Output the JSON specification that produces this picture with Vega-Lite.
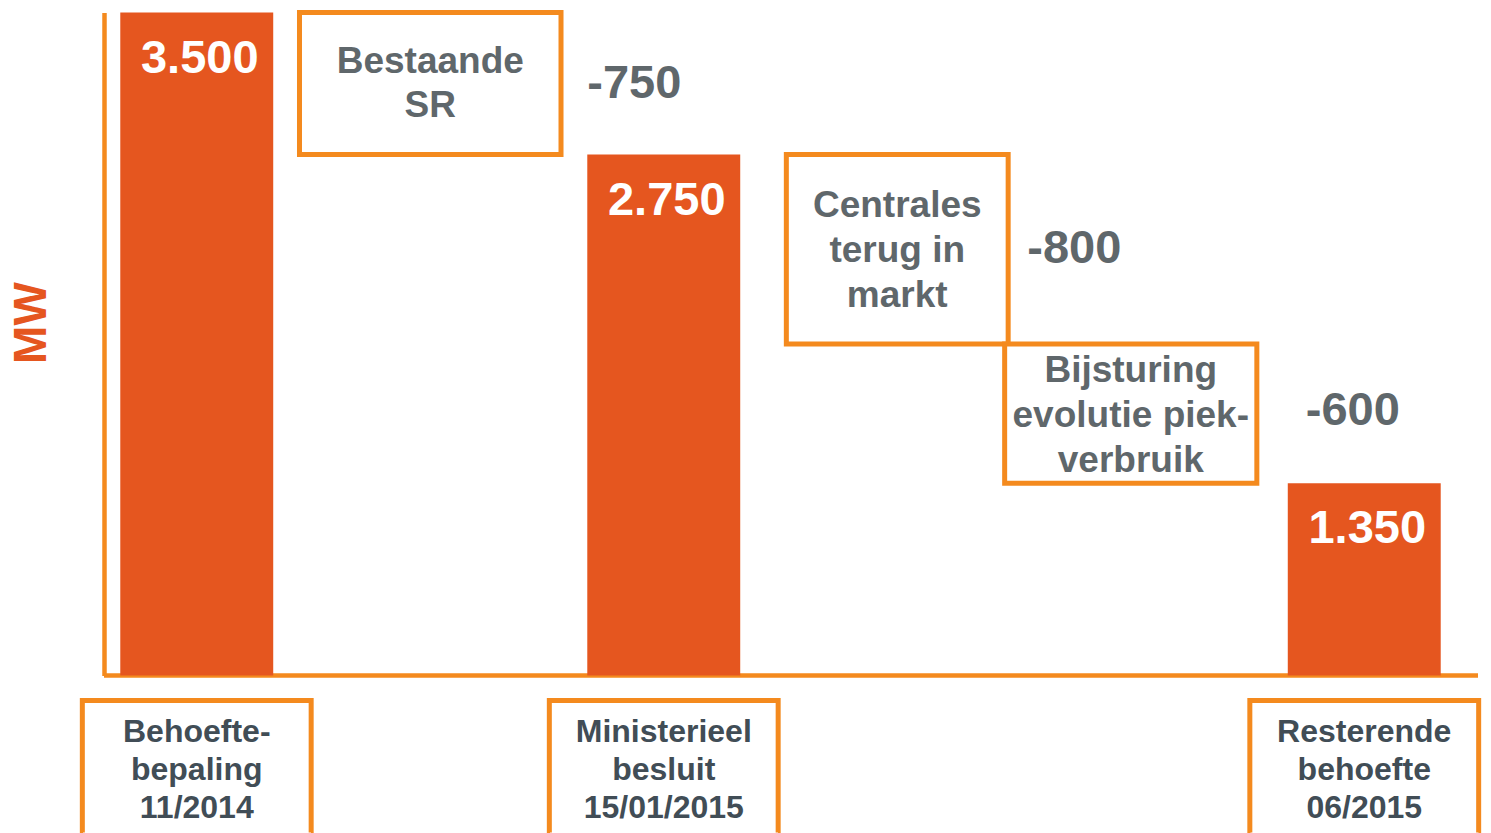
{
  "$schema": "https://vega.github.io/schema/vega-lite/v6.json",
  "padding": {"left": 8, "top": 9.5, "right": 0, "bottom": 0},
  "background": "white",
  "config": {"view": {"stroke": null}, "font": "Liberation Sans"},
  "datasets": {
    "steps": [
      {"step": "Behoefte-bepaling 11/2014", "kind": "total", "start": 0, "end": 3500, "label": "3.500", "desc": "Behoefte-\nbepaling\n11/2014"},
      {"step": "Bestaande SR", "kind": "delta", "start": 3500, "end": 2750, "label": "-750", "desc": "Bestaande\nSR"},
      {"step": "Ministerieel besluit 15/01/2015", "kind": "total", "start": 0, "end": 2750, "label": "2.750", "desc": "Ministerieel\nbesluit\n15/01/2015"},
      {"step": "Centrales terug in markt", "kind": "delta", "start": 2750, "end": 1750, "label": "-800", "desc": "Centrales\nterug in\nmarkt"},
      {"step": "Bijsturing evolutie piekverbruik", "kind": "delta", "start": 1750, "end": 1015, "label": "-600", "desc": "Bijsturing\nevolutie piek-\nverbruik"},
      {"step": "Resterende behoefte 06/2015", "kind": "total", "start": 0, "end": 1015, "label": "1.350", "desc": "Resterende\nbehoefte\n06/2015"}
    ]
  },
  "bounds": "flush",
  "spacing": 20,
  "vconcat": [
    {
      "width": 1374,
      "height": 663,
      "data": {"name": "steps"},
      "layer": [
        {
          "data": {"values": [{}]},
          "mark": {"type": "rule", "color": "#F48A1E", "strokeWidth": 4.5},
          "encoding": {"y": {"datum": 0, "type": "quantitative", "title": "MW", "scale": {"domain": [0, 3500], "nice": false}}}
        },
        {
          "transform": [{"filter": "datum.kind === 'total'"}],
          "mark": {"type": "bar", "fill": "#E5561F", "width": {"band": 0.655}},
          "encoding": {
            "x": {"field": "step", "type": "nominal", "axis": null, "scale": {"domain": ["Behoefte-bepaling 11/2014", "Bestaande SR", "Ministerieel besluit 15/01/2015", "Centrales terug in markt", "Bijsturing evolutie piekverbruik", "Resterende behoefte 06/2015"], "range": [-24, 1377], "paddingInner": 0, "paddingOuter": 0}},
            "y": {"field": "end", "type": "quantitative", "title": "MW", "scale": {"domain": [0, 3500], "nice": false}, "axis": {"domain": true, "domainColor": "#F48A1E", "domainWidth": 4.5, "ticks": false, "labels": false, "grid": false, "titleFontSize": 46, "titleFontWeight": "bold", "titleColor": "#E5561F", "titleX": -73, "titleY": 310, "titleAlign": "center", "titleBaseline": "middle", "titleAngle": -90}},
            "y2": {"field": "start"}
          }
        },
        {
          "transform": [{"filter": "datum.step === 'Bestaande SR'"}],
          "mark": {"type": "bar", "fill": "white", "stroke": "#F48A1E", "strokeWidth": 5, "width": {"band": 1.12}},
          "encoding": {
            "x": {"field": "step", "type": "nominal", "axis": null},
            "y": {"field": "end", "type": "quantitative", "title": "MW"},
            "y2": {"field": "start"}
          }
        },
        {
          "transform": [{"filter": "datum.step === 'Centrales terug in markt'"}],
          "mark": {"type": "bar", "fill": "white", "stroke": "#F48A1E", "strokeWidth": 5, "width": {"band": 0.95}},
          "encoding": {
            "x": {"field": "step", "type": "nominal", "axis": null},
            "y": {"field": "end", "type": "quantitative", "title": "MW"},
            "y2": {"field": "start"}
          }
        },
        {
          "transform": [{"filter": "datum.step === 'Bijsturing evolutie piekverbruik'"}],
          "mark": {"type": "bar", "fill": "white", "stroke": "#F48A1E", "strokeWidth": 5, "width": {"band": 1.08}},
          "encoding": {
            "x": {"field": "step", "type": "nominal", "axis": null},
            "y": {"field": "end", "type": "quantitative", "title": "MW"},
            "y2": {"field": "start"}
          }
        },
        {
          "transform": [{"filter": "datum.step === 'Bestaande SR'"}, {"fold": ["start", "end"], "as": ["edge", "mw"]}],
          "mark": {"type": "text", "fontSize": 37, "fontWeight": "bold", "color": "#5F676B", "lineHeight": 44, "lineBreak": "\n", "align": "center", "baseline": "middle", "dy": -22},
          "encoding": {
            "x": {"field": "step", "type": "nominal", "axis": null},
            "y": {"aggregate": "mean", "field": "mw", "type": "quantitative", "title": "MW"},
            "text": {"field": "desc", "type": "nominal"}
          }
        },
        {
          "transform": [{"filter": "datum.kind === 'delta' && datum.step !== 'Bestaande SR'"}, {"fold": ["start", "end"], "as": ["edge", "mw"]}],
          "mark": {"type": "text", "fontSize": 37, "fontWeight": "bold", "color": "#5F676B", "lineHeight": 45, "lineBreak": "\n", "align": "center", "baseline": "middle", "dy": -43},
          "encoding": {
            "x": {"field": "step", "type": "nominal", "axis": null},
            "y": {"aggregate": "mean", "field": "mw", "type": "quantitative", "title": "MW"},
            "text": {"field": "desc", "type": "nominal"}
          }
        },
        {
          "transform": [{"filter": "datum.step === 'Bestaande SR'"}, {"fold": ["start", "end"], "as": ["edge", "mw"]}],
          "mark": {"type": "text", "fontSize": 47, "fontWeight": "bold", "color": "#5F676B", "align": "left", "baseline": "middle", "dx": 157},
          "encoding": {
            "x": {"field": "step", "type": "nominal", "axis": null},
            "y": {"aggregate": "mean", "field": "mw", "type": "quantitative", "title": "MW"},
            "text": {"field": "label", "type": "nominal"}
          }
        },
        {
          "transform": [{"filter": "datum.step === 'Centrales terug in markt'"}, {"fold": ["start", "end"], "as": ["edge", "mw"]}],
          "mark": {"type": "text", "fontSize": 47, "fontWeight": "bold", "color": "#5F676B", "align": "left", "baseline": "middle", "dx": 130},
          "encoding": {
            "x": {"field": "step", "type": "nominal", "axis": null},
            "y": {"aggregate": "mean", "field": "mw", "type": "quantitative", "title": "MW"},
            "text": {"field": "label", "type": "nominal"}
          }
        },
        {
          "transform": [{"filter": "datum.step === 'Bijsturing evolutie piekverbruik'"}, {"fold": ["start", "end"], "as": ["edge", "mw"]}],
          "mark": {"type": "text", "fontSize": 47, "fontWeight": "bold", "color": "#5F676B", "align": "left", "baseline": "middle", "dx": 175, "dy": -3},
          "encoding": {
            "x": {"field": "step", "type": "nominal", "axis": null},
            "y": {"aggregate": "mean", "field": "mw", "type": "quantitative", "title": "MW"},
            "text": {"field": "label", "type": "nominal"}
          }
        },
        {
          "transform": [{"filter": "datum.kind === 'total'"}],
          "mark": {"type": "text", "fontSize": 47, "fontWeight": "bold", "color": "white", "align": "center", "baseline": "alphabetic", "dy": 60, "dx": 3},
          "encoding": {
            "x": {"field": "step", "type": "nominal", "axis": null},
            "y": {"field": "end", "type": "quantitative", "title": "MW"},
            "text": {"field": "label", "type": "nominal"}
          }
        }
      ]
    },
    {
      "width": 1374,
      "height": 137,
      "data": {"name": "steps"},
      "transform": [{"filter": "datum.kind === 'total'"}],
      "layer": [
        {
          "mark": {"type": "bar", "fill": "white", "stroke": "#F48A1E", "strokeWidth": 5, "width": {"band": 0.98}, "yOffset": 5, "strokeDash": [361, 228, 300]},
          "encoding": {
            "x": {"field": "step", "type": "nominal", "axis": null, "scale": {"domain": ["Behoefte-bepaling 11/2014", "Bestaande SR", "Ministerieel besluit 15/01/2015", "Centrales terug in markt", "Bijsturing evolutie piekverbruik", "Resterende behoefte 06/2015"], "range": [-24, 1377], "paddingInner": 0, "paddingOuter": 0}}
          }
        },
        {
          "mark": {"type": "text", "fontSize": 32, "fontWeight": "bold", "color": "#414D56", "lineHeight": 38, "lineBreak": "\n", "align": "center", "baseline": "middle", "dy": -32},
          "encoding": {
            "x": {"field": "step", "type": "nominal", "axis": null},
            "text": {"field": "desc", "type": "nominal"}
          }
        }
      ]
    }
  ]
}
